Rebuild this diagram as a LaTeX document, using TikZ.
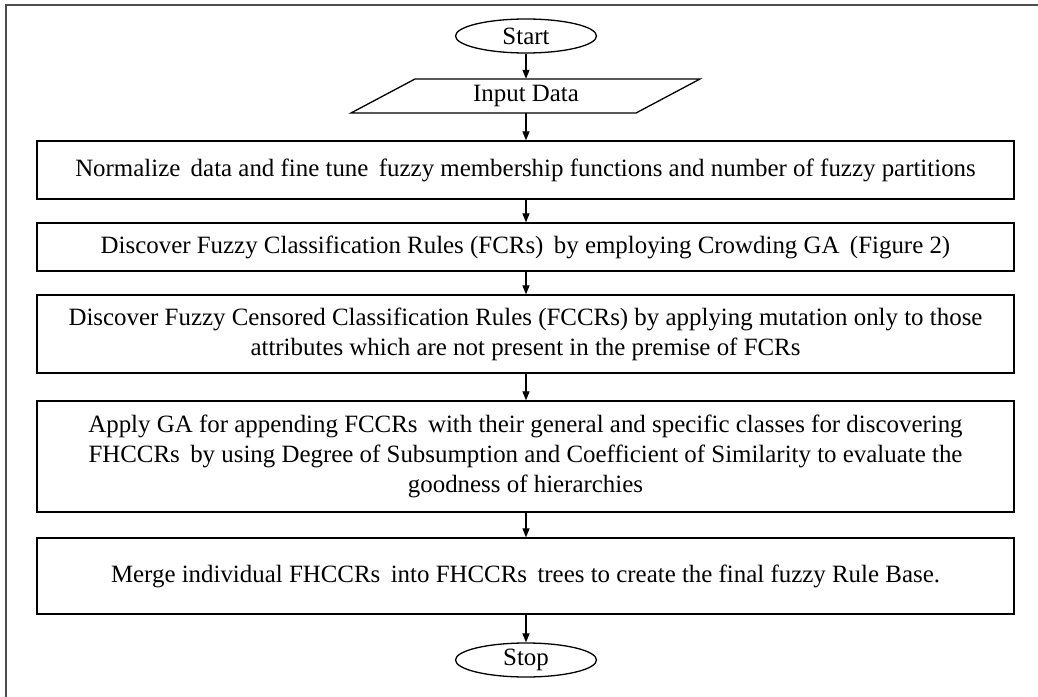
\documentclass[tikz,border=0pt]{standalone}
\usepackage{fontspec}
\setmainfont{Liberation Serif}
\usetikzlibrary{arrows.meta,shapes.geometric}
\begin{document}
\begin{tikzpicture}[x=1bp,y=-1bp,
  txt/.style={font=\fontsize{25}{30}\selectfont},
  stepbox/.style={txt,draw,line width=1.3bp,minimum width=977bp,align=center,inner sep=0pt},
  term/.style={txt,draw,ellipse,line width=1.3bp,minimum width=141bp,minimum height=34bp,inner sep=0pt},
  flow/.style={-{Triangle[length=9bp,width=7bp]},line width=1.2bp}]
\useasboundingbox (0,0) rectangle (1038,697);
% outer frame (top and left edges only)
\draw[gray!60!black,line width=2bp] (5.5,697) -- (5.5,5.5) -- (1038,5.5);

\node[term] (start) at (526,36) {Start};

% input parallelogram
\node[txt,minimum width=285bp,minimum height=34bp,inner sep=0pt] (inp) at (526,96) {Input Data};
\draw[line width=1.3bp] (inp.center) ++(-111,-17) -- ++(285,0) -- ++(-64,34) -- ++(-285,0) -- cycle;

\node[stepbox,minimum height=58bp] (s1) at (525.5,170)
  {Normalize \,data and fine tune \,fuzzy membership functions and number of fuzzy partitions};
\node[stepbox,minimum height=48bp] (s2) at (525.5,247)
  {Discover Fuzzy Classification Rules (FCRs) \,by employing Crowding GA \,(Figure 2)};
\node[stepbox,minimum height=78bp] (s3) at (525.5,334)
  {Discover Fuzzy Censored Classification Rules (FCCRs) by applying mutation only to those\\
   attributes which are not present in the premise of FCRs};
\node[stepbox,minimum height=111bp] (s4) at (525.5,456.5)
  {Apply GA for appending FCCRs \,with their general and specific classes for discovering\\
   FHCCRs \,by using Degree of Subsumption and Coefficient of Similarity to evaluate the\\
   goodness of hierarchies};
\node[stepbox,minimum height=76bp] (s5) at (525.5,576)
  {Merge individual FHCCRs \,into FHCCRs \,trees to create the final fuzzy Rule Base.};

\node[term] (stop) at (526,660) {Stop};

\draw[flow] (start.south) -- (inp.north);
\draw[flow] (inp.south) -- (s1.north -| inp.south);
\draw[flow] (s1.south -| inp.south) -- (s2.north -| inp.south);
\draw[flow] (s2.south -| inp.south) -- (s3.north -| inp.south);
\draw[flow] (s3.south -| inp.south) -- (s4.north -| inp.south);
\draw[flow] (s4.south -| inp.south) -- (s5.north -| inp.south);
\draw[flow] (s5.south -| inp.south) -- (stop.north);
\end{tikzpicture}
\end{document}
